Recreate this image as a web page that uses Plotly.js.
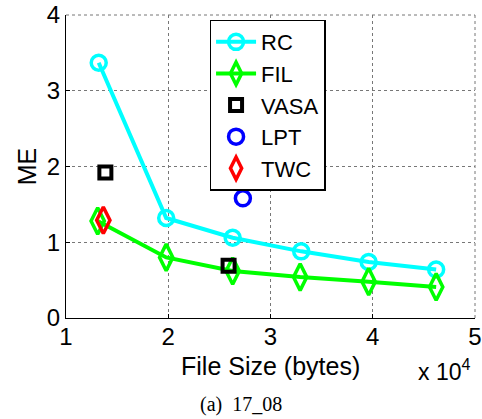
<!DOCTYPE html>
<html>
<head>
<meta charset="utf-8">
<script src="https://cdn.plot.ly/plotly-3.0.1.min.js"></script>
<style>
  html, body { margin: 0; padding: 0; background: #fff; }
  #chart { width: 482px; height: 419px; }
</style>
</head>
<body>
<div id="chart"></div>
<script>
// file sizes in bytes, ME values
var rcSize = [13200, 19800, 26300, 33000, 39600, 46200];
var rcME = [3.37, 1.32, 1.06, 0.88, 0.74, 0.64];

var filSize = [13100, 19800, 26300, 32900, 39600, 46200];
var filME = [1.28, 0.80, 0.62, 0.54, 0.48, 0.41];

var vasaSize = [13850, 25900];
var vasaME = [1.92, 0.69];

var lptSize = [27300];
var lptME = [1.58];

var twcSize = [13650];
var twcME = [1.29];

var xTicks = [10000, 20000, 30000, 40000, 50000];
var xTickText = ['1', '2', '3', '4', '5'];
var yTicks = [0, 1, 2, 3, 4];

var font = 'Liberation Sans, Arial, sans-serif';

var data = [
  {
    name: 'RC', x: rcSize, y: rcME, type: 'scatter', mode: 'lines+markers',
    line: {color: '#00ffff', width: 4},
    marker: {symbol: 'circle-open', size: 15, color: '#00ffff', line: {width: 3.5, color: '#00ffff'}}
  },
  {
    name: 'FIL', x: filSize, y: filME, type: 'scatter', mode: 'lines+markers',
    line: {color: '#00ff00', width: 4},
    marker: {symbol: 'diamond-tall-open', size: 19, color: '#00ff00', line: {width: 3.5, color: '#00ff00'}}
  },
  {
    name: 'VASA', x: vasaSize, y: vasaME, type: 'scatter', mode: 'markers',
    marker: {symbol: 'square-open', size: 12, color: '#000', line: {width: 4, color: '#000'}}
  },
  {
    name: 'LPT', x: lptSize, y: lptME, type: 'scatter', mode: 'markers',
    marker: {symbol: 'circle-open', size: 15, color: '#0000ff', line: {width: 3.5, color: '#0000ff'}}
  },
  {
    name: 'TWC', x: twcSize, y: twcME, type: 'scatter', mode: 'markers',
    marker: {symbol: 'diamond-tall-open', size: 19, color: '#ff0000', line: {width: 3.5, color: '#ff0000'}}
  }
];

var gridStyle = {color: '#777', width: 1, dash: 'dot'};

var layout = {
  width: 482,
  height: 419,
  margin: {l: 66, r: 7, t: 15, b: 101},
  paper_bgcolor: '#fff',
  plot_bgcolor: '#fff',
  showlegend: true,
  font: {family: font, size: 24, color: '#000'},
  xaxis: {
    range: [10000, 50000],
    tickvals: xTicks,
    ticktext: xTickText,
    ticks: 'inside',
    ticklen: 4,
    tickcolor: '#000',
    showline: true,
    linecolor: '#000',
    linewidth: 1,
    showgrid: true,
    gridcolor: '#777',
    griddash: 'dot',
    gridwidth: 1,
    zeroline: false,
    ticklabeloverflow: 'allow',
    ticklabelstandoff: -3,
    tickfont: {family: font, size: 24}
  },
  yaxis: {
    range: [0, 4],
    tickvals: yTicks,
    ticks: 'inside',
    ticklen: 4,
    tickcolor: '#000',
    showline: true,
    linecolor: '#000',
    linewidth: 1,
    showgrid: true,
    gridcolor: '#777',
    griddash: 'dot',
    gridwidth: 1,
    zeroline: false,
    tickfont: {family: font, size: 24},
    title: {text: 'ME', font: {family: font, size: 25}, standoff: 3}
  },
  legend: {
    x: 0.351, y: 0.985, xanchor: 'left', yanchor: 'top',
    bgcolor: '#fff',
    bordercolor: '#000',
    borderwidth: 1.5,
    font: {family: font, size: 22},
    itemwidth: 40,
    tracegroupgap: 0
  },
  shapes: [
    {type: 'line', xref: 'paper', yref: 'paper', x0: 0, x1: 1, y0: 1, y1: 1, line: gridStyle},
    {type: 'line', xref: 'paper', yref: 'paper', x0: 1, x1: 1, y0: 0, y1: 1, line: gridStyle}
  ],
  annotations: [
    {
      text: 'File Size (bytes)', xref: 'paper', yref: 'paper',
      x: 0.499, y: -0.158, xanchor: 'center', yanchor: 'middle',
      showarrow: false, font: {family: font, size: 25}
    },
    {
      text: 'x 10<sup>4</sup>', xref: 'paper', yref: 'paper',
      x: 0.856, y: -0.172, xanchor: 'left', yanchor: 'middle',
      showarrow: false, font: {family: font, size: 23}
    },
    {
      text: '(a)  17_08', xref: 'paper', yref: 'paper',
      x: 0.427, y: -0.287, xanchor: 'center', yanchor: 'middle',
      showarrow: false, font: {family: 'Liberation Serif, Times New Roman, serif', size: 20}
    }
  ]
};

Plotly.newPlot('chart', data, layout, {displayModeBar: false, staticPlot: true});
</script>
</body>
</html>
